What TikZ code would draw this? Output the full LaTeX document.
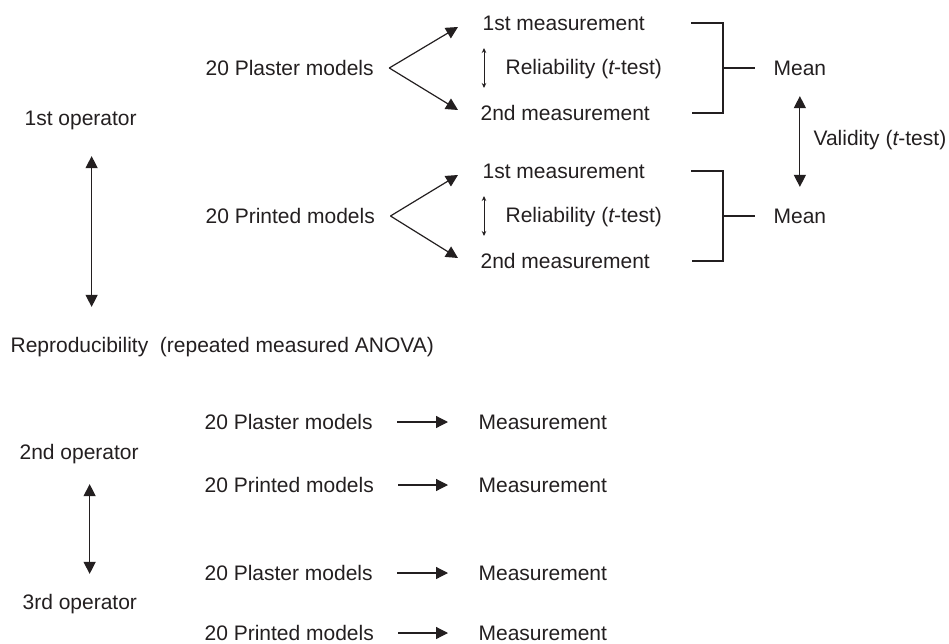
\documentclass[tikz,border=0pt]{standalone}
\usepackage{fontspec}
\setmainfont{Liberation Sans}
\usetikzlibrary{positioning, arrows.meta, calc}
\definecolor{ink}{HTML}{231F20}

\begin{document}
\begin{tikzpicture}[
        x=1pt, y=-1pt,
        >={Triangle[length=12pt, width=12pt]},
        line width=1.2pt,
        draw=ink,
        lbl/.style={anchor=west, inner sep=0pt, text=ink, text height=15pt, text depth=0pt,
                    font=\fontsize{21}{25}\selectfont},
        small/.style={{Stealth[length=5pt, width=4.5pt]}-{Stealth[length=5pt, width=4.5pt]}, line width=1pt},
    ]
    \useasboundingbox (0,0) rectangle (949,644);

        % Draw the 1st operator and the reproducibility arrow
        \node[lbl] (op-1) at (24,118) {1st operator};
        \node[lbl] (repro) at (10,345) {Reproducibility\ \ (repeated measured ANOVA)};
        \draw[<->, shorten <=30pt, shorten >=30pt] ([xshift=11pt]op-1.south) -- ([xshift=11pt]op-1.south |- repro.north);

        % Draw the plaster and printed groups with two measurements each
        \foreach \g / \lab / \yb in {1/Plaster/0, 2/Printed/148} {
            \node[lbl] (src-\g) at (205,68+\yb) {20 \lab\ models};
            \node[lbl] (m1-\g) at (482,23+\yb) {1st measurement};
            \node[lbl] (rel-\g) at (505,67+\yb) {Reliability ({\itshape t}-test)};
            \node[lbl] (m2-\g) at (480,113+\yb) {2nd measurement};
            \node[lbl] (mean-\g) at (773,68+\yb) {Mean};
            \coordinate (v-\g) at ([xshift=15pt]src-\g.east);
            \coordinate (br-\g) at (723,68+\yb);
            \draw[->] (v-\g) -- ([xshift=-24pt, yshift=-4pt]m1-\g.west);
            \draw[->] (v-\g) -- ([xshift=-22pt, yshift=3pt]m2-\g.west);
            \draw[small] ([xshift=-21pt, yshift=19pt]rel-\g.west) -- ([xshift=-21pt, yshift=-21pt]rel-\g.west);
            % bracket to the mean
            \draw ([xshift=46pt]m1-\g.east) -| (br-\g) |- ([xshift=42pt]m2-\g.east);
            \draw (br-\g) -- ([xshift=-18pt]mean-\g.west);
        }

        % Validity between the two means
        \draw[<->, shorten <=20pt, shorten >=21pt] (mean-1.south) -- (mean-2.north);
        \node[lbl] (valid) at (813,138) {Validity ({\itshape t}-test)};

        % Draw the 2nd and 3rd operators
        \node[lbl] (op-2) at (19,452) {2nd operator};
        \node[lbl] (op-3) at (22,602) {3rd operator};
        \draw[<->, shorten <=24pt, shorten >=20pt] ([xshift=10.5pt]op-2.south) -- ([xshift=10.5pt]op-2.south |- op-3.north);

        % Each group measured once
        \foreach \r / \lab / \y in {1/Plaster/422, 2/Printed/485, 3/Plaster/573, 4/Printed/633} {
            \node[lbl] (row-\r) at (204,\y) {20 \lab\ models};
            \node[lbl] (meas-\r) at (478,\y) {Measurement};
            \draw[->, shorten <=24pt, shorten >=30pt] (row-\r.east) -- (meas-\r.west);
        }
    \end{tikzpicture}
\end{document}
